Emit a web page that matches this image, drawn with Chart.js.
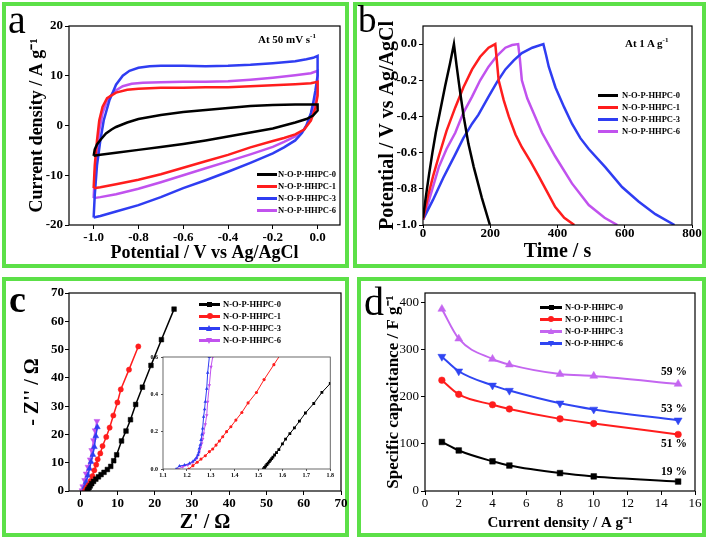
<!DOCTYPE html>
<html>
<head>
<meta charset="utf-8">
<script src="https://cdn.jsdelivr.net/npm/chart.js@4.4.0/dist/chart.umd.min.js"></script>
<style>
  body { margin: 0; width: 709px; height: 541px; background: #fff; position: relative; overflow: hidden; font-family: "Liberation Serif", "Times New Roman", serif; }
  .panel { position: absolute; border: 4px solid #5ce048; box-sizing: border-box; }
  canvas { position: absolute; }
  .note { position: absolute; font-weight: bold; white-space: nowrap; color: #000; }
  .note sup { font-size: 7px; }
  .letter { position: absolute; line-height: 1; color: #000; }
  .leg { position: absolute; font-size: 8.5px; font-weight: bold; white-space: nowrap; }
  .leg .row { position: relative; height: 12px; }
  .leg .ln { position: absolute; top: 5px; height: 2.5px; }
  .leg .tx { position: absolute; top: 0; line-height: 12px; }
  .leg .mk { position: absolute; }
</style>
</head>
<body>
<div class="panel" style="left:2px;top:2px;width:347px;height:266px"></div>
<div class="panel" style="left:353px;top:2px;width:353px;height:266px"></div>
<div class="panel" style="left:2px;top:277px;width:347px;height:260px"></div>
<div class="panel" style="left:357px;top:277px;width:349px;height:260px"></div>

<canvas id="cv"></canvas>
<canvas id="gcd"></canvas>
<canvas id="eis"></canvas>
<canvas id="inset"></canvas>
<canvas id="rate"></canvas>

<div class="letter" style="left:8px;top:0px;font-size:40px">a</div>
<div class="letter" style="left:358px;top:1px;font-size:37px">b</div>
<div class="letter" style="left:9px;top:280px;font-size:38px;font-weight:bold">c</div>
<div class="letter" style="left:364px;top:282px;font-size:40px">d</div>

<div class="note" style="left:258px;top:32px;font-size:11px">At 50 mV s<sup>-1</sup></div>
<div class="note" style="left:625px;top:36px;font-size:11px">At 1 A g<sup>-1</sup></div>

<script>
// sample names and colours
const series = ['N-O-P-HHPC-0', 'N-O-P-HHPC-1', 'N-O-P-HHPC-3', 'N-O-P-HHPC-6'];
const colors = ['#000000', '#ff1d1d', '#2f3df2', '#c152ee'];
const rateColors = ['#000000', '#ff1d1d', '#c466f0', '#2f45f2'];

// (a) CV loops at 50 mV/s: [potential V, current density A/g]
const cv0 = [[-1,-6.1],[-0.995,-4.8],[-0.985,-3.8],[-0.97,-2.9],[-0.945,-1.6],[-0.92,-0.8],[-0.9,-0.3],[-0.85,0.6],[-0.8,1.3],[-0.7,2.1],[-0.6,2.7],[-0.5,3.1],[-0.4,3.5],[-0.3,3.9],[-0.2,4.1],[-0.1,4.2],[0,4.2],[0,3],[-0.02,2],[-0.05,1.3],[-0.1,0.6],[-0.2,-0.6],[-0.3,-1.4],[-0.4,-2.2],[-0.5,-3],[-0.6,-3.7],[-0.7,-4.3],[-0.8,-4.9],[-0.9,-5.5],[-0.97,-5.9],[-1,-6.1]];
const cv1 = [[-1,-12.6],[-0.995,-8],[-0.985,-3],[-0.975,1],[-0.96,3.8],[-0.94,5.5],[-0.9,6.6],[-0.85,7.2],[-0.8,7.4],[-0.7,7.6],[-0.6,7.6],[-0.5,7.7],[-0.4,7.7],[-0.3,7.9],[-0.2,8.1],[-0.1,8.3],[-0.03,8.5],[0,8.8],[0,6],[-0.01,3.5],[-0.03,1],[-0.06,-0.8],[-0.1,-1.8],[-0.15,-2.5],[-0.2,-3.1],[-0.3,-4.4],[-0.4,-5.9],[-0.5,-7.2],[-0.6,-8.5],[-0.7,-9.8],[-0.8,-10.9],[-0.9,-11.8],[-0.97,-12.4],[-1,-12.6]];
const cv3 = [[-1,-18.5],[-0.995,-14],[-0.985,-8],[-0.97,-3],[-0.955,1],[-0.93,5],[-0.9,8.2],[-0.87,10],[-0.84,11],[-0.8,11.6],[-0.75,11.9],[-0.7,12],[-0.6,12],[-0.5,11.9],[-0.4,12],[-0.3,12.2],[-0.2,12.5],[-0.1,12.9],[-0.05,13.3],[-0.02,13.6],[0,14],[0,10],[-0.01,7],[-0.02,4.5],[-0.03,2.5],[-0.05,0],[-0.07,-1.5],[-0.1,-3],[-0.15,-4.4],[-0.2,-5.6],[-0.3,-7.5],[-0.4,-9.3],[-0.5,-11],[-0.6,-12.6],[-0.7,-14.4],[-0.8,-16],[-0.9,-17.3],[-0.97,-18.2],[-1,-18.5]];
const cv6 = [[-1,-14.6],[-0.995,-10],[-0.985,-5],[-0.975,-1],[-0.96,2.5],[-0.94,5],[-0.91,6.8],[-0.87,7.9],[-0.83,8.4],[-0.78,8.6],[-0.7,8.7],[-0.6,8.8],[-0.5,8.8],[-0.4,8.9],[-0.3,9.2],[-0.2,9.6],[-0.1,10.1],[-0.03,10.5],[0,11],[0,7],[-0.01,4.5],[-0.03,1.5],[-0.06,-0.8],[-0.1,-2.2],[-0.15,-3.3],[-0.2,-4.3],[-0.3,-5.8],[-0.4,-7.2],[-0.5,-8.6],[-0.6,-10],[-0.7,-11.4],[-0.8,-12.7],[-0.9,-13.8],[-0.97,-14.4],[-1,-14.6]];
const cvTicksX = [-1.0, -0.8, -0.6, -0.4, -0.2, 0.0];
const cvTicksY = [-20, -10, 0, 10, 20];

// (b) charge/discharge at 1 A/g: [time s, potential V]
const gcd0 = [[0,-0.96],[8,-0.85],[18,-0.72],[28,-0.6],[38,-0.49],[50,-0.38],[66,-0.23],[80,-0.11],[92,0],[100,-0.12],[110,-0.26],[121,-0.4],[135,-0.55],[151,-0.68],[175,-0.85],[199,-1.0]];
const gcd1 = [[0,-0.97],[15,-0.84],[30,-0.73],[47,-0.62],[70,-0.48],[96,-0.35],[120,-0.24],[146,-0.14],[170,-0.07],[195,-0.02],[215,0],[218,-0.06],[225,-0.2],[240,-0.31],[255,-0.4],[275,-0.5],[294,-0.57],[320,-0.65],[344,-0.73],[370,-0.82],[393,-0.9],[420,-0.96],[450,-1.0]];
const gcd3 = [[0,-0.97],[30,-0.86],[60,-0.74],[96,-0.61],[120,-0.52],[146,-0.44],[165,-0.39],[195,-0.29],[220,-0.21],[245,-0.14],[270,-0.09],[294,-0.05],[325,-0.02],[358,0],[366,-0.06],[374,-0.125],[394,-0.24],[420,-0.35],[443,-0.44],[468,-0.52],[493,-0.58],[542,-0.68],[592,-0.79],[641,-0.87],[691,-0.94],[748,-1.0]];
const gcd6 = [[0,-0.97],[20,-0.85],[47,-0.68],[70,-0.58],[96,-0.49],[120,-0.38],[146,-0.29],[170,-0.2],[195,-0.125],[220,-0.065],[245,-0.02],[265,-0.005],[283,0],[288,-0.08],[294,-0.2],[310,-0.3],[324,-0.36],[354,-0.49],[393,-0.62],[443,-0.77],[493,-0.89],[540,-0.96],[578,-1.0]];
const gcdTicksX = [0, 200, 400, 600, 800];
const gcdTicksY = [-1.0, -0.8, -0.6, -0.4, -0.2, 0.0];

// (c) Nyquist plots: [Z' ohm, -Z'' ohm]
const eis0 = [[1.9,0],[2.1,0.6],[2.4,1.2],[2.7,1.8],[3.1,2.6],[3.6,3.4],[4.2,4.2],[4.9,5.0],[5.6,5.8],[6.4,6.6],[7.3,7.6],[8.2,8.7],[9.0,10.7],[9.8,12.8],[11.1,17.7],[12.3,21.2],[13.5,25.2],[14.9,30.6],[16.7,36.7],[19.0,44.4],[21.8,53.5],[25.2,64.3]];
const eis1 = [[1.3,0],[1.6,0.7],[1.9,1.4],[2.3,2.2],[2.8,3.6],[3.3,5.3],[3.8,7.3],[4.3,9.3],[4.7,11.2],[5.4,13.3],[6.0,15.9],[7.0,19.1],[7.9,22.4],[8.9,26.7],[10.0,31.3],[10.9,35.9],[13.1,42.9],[15.6,51.1]];
const eis3 = [[1.0,0],[1.2,1.4],[1.6,3.2],[2.1,5.5],[2.5,7.9],[2.9,10.3],[3.4,12.8],[3.8,15.6],[4.2,19.4],[4.6,22.6]];
const eis6 = [[0.5,0.2],[0.7,1.6],[1.2,3.8],[1.6,6.1],[2.1,8.5],[2.7,11.1],[3.1,14.4],[3.6,17.9],[4.0,21.4],[4.5,24.7]];
const eisTicks = [0, 10, 20, 30, 40, 50, 60, 70];

// (c) inset, high-frequency region
const in0 = [[1.52,0],[1.525,0.008],[1.53,0.016],[1.535,0.024],[1.54,0.032],[1.545,0.04],[1.55,0.048],[1.555,0.056],[1.56,0.064],[1.567,0.075],[1.575,0.088],[1.585,0.104],[1.6,0.135],[1.613,0.16],[1.631,0.19],[1.65,0.22],[1.671,0.256],[1.696,0.3],[1.731,0.351],[1.765,0.41],[1.8,0.458]];
const in1 = [[1.208,0],[1.225,0.018],[1.243,0.036],[1.259,0.053],[1.277,0.071],[1.294,0.093],[1.308,0.107],[1.322,0.128],[1.336,0.15],[1.35,0.173],[1.366,0.2],[1.384,0.226],[1.405,0.262],[1.43,0.303],[1.456,0.354],[1.491,0.41],[1.523,0.479],[1.564,0.559],[1.59,0.61]];
const in3 = [[1.155,0],[1.169,0.016],[1.19,0.021],[1.211,0.03],[1.225,0.04],[1.232,0.048],[1.24,0.06],[1.246,0.075],[1.25,0.09],[1.252,0.11],[1.256,0.13],[1.259,0.155],[1.263,0.185],[1.266,0.217],[1.27,0.28],[1.274,0.32],[1.277,0.36],[1.283,0.43],[1.287,0.516],[1.294,0.6],[1.297,0.65]];
const in6 = [[1.162,0],[1.183,0.012],[1.204,0.021],[1.225,0.036],[1.241,0.057],[1.247,0.075],[1.252,0.093],[1.257,0.115],[1.262,0.137],[1.266,0.16],[1.27,0.19],[1.277,0.239],[1.283,0.288],[1.287,0.36],[1.294,0.449],[1.301,0.547],[1.308,0.6],[1.311,0.65]];
const insetTicksX = [1.1, 1.2, 1.3, 1.4, 1.5, 1.6, 1.7, 1.8];
const insetTicksY = [0.0, 0.2, 0.4, 0.6];

// (d) rate capability
const currentDensity = [1, 2, 4, 5, 8, 10, 15];
const cap0 = [104, 86, 63, 54, 38, 31, 20];
const cap1 = [235, 205, 183, 174, 153, 143, 120];
const cap3 = [386, 323, 280, 268, 248, 244, 227];
const cap6 = [285, 254, 224, 213, 186, 173, 150];
const rateTicksX = [0, 2, 4, 6, 8, 10, 12, 14, 16];
const rateTicksY = [0, 100, 200, 300, 400];
const retention = ['59 %', '53 %', '51 %', '19 %'];

Chart.defaults.font.family = "'Liberation Serif', 'Times New Roman', serif";
Chart.defaults.color = '#000';

const xy = arr => arr.map(p => ({ x: p[0], y: p[1] }));

// box around the plot area
const frame = {
  id: 'frame',
  afterDatasetsDraw(chart, args, opts) {
    const { ctx, chartArea: a } = chart;
    ctx.save();
    ctx.strokeStyle = opts.color || '#000';
    ctx.lineWidth = opts.width || 1.2;
    ctx.strokeRect(a.left, a.top, a.right - a.left, a.bottom - a.top);
    ctx.restore();
  }
};

function place(id, x, y, w, h) {
  const c = document.getElementById(id);
  c.width = w; c.height = h;
  c.style.left = x + 'px'; c.style.top = y + 'px';
  c.style.width = w + 'px'; c.style.height = h + 'px';
  return c;
}

function axis(o) {
  return {
    type: 'linear', min: o.min, max: o.max,
    afterBuildTicks: s => { s.ticks = o.ticks.map(v => ({ value: v })); },
    afterFit: s => { if (s.isHorizontal()) s.height = o.size; else s.width = o.size; },
    grid: { drawOnChartArea: false, color: o.gc || '#000', tickLength: o.tl ?? 4, lineWidth: 1 },
    border: { display: false },
    ticks: {
      autoSkip: false, maxRotation: 0, padding: o.tp ?? 2, color: '#000',
      font: { size: o.fs || 13, weight: o.fw || 'bold' },
      callback: v => o.fmt ? o.fmt(v) : String(v)
    },
    title: o.title
      ? { display: true, text: o.title, color: '#000', font: { size: o.ts, weight: 'bold' }, padding: o.tpad }
      : { display: false }
  };
}

function base(pad, scales, frameOpts) {
  return {
    responsive: false, animation: false, events: [],
    layout: { padding: pad },
    plugins: { legend: { display: false }, tooltip: { enabled: false }, frame: frameOpts || {} },
    scales: scales
  };
}

const fix1 = v => v.toFixed(1);

// (a)
new Chart(place('cv', 2, 2, 347, 266), {
  type: 'scatter',
  data: {
    datasets: [cv0, cv1, cv3, cv6].map((d, i) => ({
      label: series[i], data: xy(d), showLine: true, borderColor: colors[i],
      borderWidth: 2.5, pointRadius: 0, tension: 0
    }))
  },
  options: base({ left: 0, top: 24, right: 9, bottom: 0 }, {
    x: axis({ min: -1.11, max: 0.1, ticks: cvTicksX, fmt: fix1, size: 43, tp: 1,
      title: 'Potential / V vs Ag/AgCl', ts: 18, tpad: { top: 0, bottom: 4 } }),
    y: axis({ min: -20, max: 20, ticks: cvTicksY, size: 67,
      title: 'Current density / A g\u207B\u00B9', ts: 18, tpad: { top: 25, bottom: 0 } })
  }),
  plugins: [frame]
});

// (b)
new Chart(place('gcd', 353, 2, 353, 266), {
  type: 'scatter',
  data: {
    datasets: [gcd0, gcd1, gcd3, gcd6].map((d, i) => ({
      label: series[i], data: xy(d), showLine: true, borderColor: colors[i],
      borderWidth: 2.5, pointRadius: 0, tension: 0
    }))
  },
  options: base({ left: 0, top: 24, right: 14, bottom: 0 }, {
    x: axis({ min: 0, max: 800, ticks: gcdTicksX, size: 43, tl: 3, tp: -2,
      title: 'Time / s', ts: 20, tpad: { top: 0, bottom: 4 } }),
    y: axis({ min: -1.0, max: 0.1, ticks: gcdTicksY, fmt: fix1, size: 70,
      title: 'Potential / V vs Ag/AgCl', ts: 20, tpad: { top: 23, bottom: 0 } })
  }),
  plugins: [frame]
});

// (c)
const eisStyles = [
  { pointStyle: 'rect', r: 3.3, rot: 0 },
  { pointStyle: 'circle', r: 2.6, rot: 0 },
  { pointStyle: 'triangle', r: 3.4, rot: 0 },
  { pointStyle: 'triangle', r: 3.4, rot: 180 }
];
new Chart(place('eis', 2, 277, 347, 260), {
  type: 'scatter',
  data: {
    datasets: [eis0, eis1, eis3, eis6].map((d, i) => ({
      label: series[i], data: xy(d), showLine: true, borderColor: colors[i], backgroundColor: colors[i],
      borderWidth: 1.5, pointStyle: eisStyles[i].pointStyle, pointRadius: eisStyles[i].r,
      pointRotation: eisStyles[i].rot, pointBorderWidth: 0.5, tension: 0
    }))
  },
  options: base({ left: 0, top: 16, right: 8, bottom: 0 }, {
    x: axis({ min: -3, max: 70, ticks: eisTicks, size: 46, tp: 1,
      title: "Z' / \u03A9", ts: 20, tpad: { top: 0, bottom: 2 } }),
    y: axis({ min: 0, max: 70, ticks: eisTicks, size: 67, tp: 1,
      title: "- Z'' / \u03A9", ts: 20, tpad: { top: 19, bottom: 0 } })
  }),
  plugins: [frame]
});

// (c) inset
new Chart(place('inset', 140, 350, 195, 135), {
  type: 'scatter',
  data: {
    datasets: [in0, in1, in3, in6].map((d, i) => ({
      label: series[i], data: xy(d), showLine: true, borderColor: colors[i], backgroundColor: colors[i],
      borderWidth: 1, pointStyle: eisStyles[i].pointStyle, pointRadius: eisStyles[i].r * 0.6,
      pointRotation: eisStyles[i].rot, pointBorderWidth: 0, tension: 0
    }))
  },
  options: base({ left: 0, top: 7, right: 3, bottom: 0 }, {
    x: axis({ min: 1.1, max: 1.8, ticks: insetTicksX, fmt: fix1, size: 16, tl: 2, tp: 1, fs: 6, gc: '#555' }),
    y: axis({ min: 0, max: 0.6, ticks: insetTicksY, fmt: fix1, size: 23, tl: 2, tp: 3, fs: 6, gc: '#555' })
  }, { color: '#444', width: 0.8 }),
  plugins: [frame]
});

// (d)
const rateStyles = [
  { pointStyle: 'rect', r: 4, rot: 0 },
  { pointStyle: 'circle', r: 3.3, rot: 0 },
  { pointStyle: 'triangle', r: 4.6, rot: 0 },
  { pointStyle: 'triangle', r: 4.6, rot: 180 }
];
new Chart(place('rate', 357, 277, 349, 260), {
  type: 'scatter',
  data: {
    datasets: [cap0, cap1, cap3, cap6].map((d, i) => ({
      label: series[i], data: currentDensity.map((x, j) => ({ x: x, y: d[j] })), showLine: true,
      borderColor: rateColors[i], backgroundColor: rateColors[i], borderWidth: 2,
      pointStyle: rateStyles[i].pointStyle, pointRadius: rateStyles[i].r,
      pointRotation: rateStyles[i].rot, pointBorderWidth: 0.5, cubicInterpolationMode: 'monotone'
    }))
  },
  options: base({ left: 0, top: 16, right: 11, bottom: 0 }, {
    x: axis({ min: 0, max: 16, ticks: rateTicksX, size: 46, tp: 1, fw: 'normal',
      title: 'Current density / A g\u207B\u00B9', ts: 15, tpad: { top: 0, bottom: 5 } }),
    y: axis({ min: 0, max: 420, ticks: rateTicksY, size: 68, fw: 'normal',
      title: 'Specific capacitance / F g\u207B\u00B9', ts: 17, tpad: { top: 26, bottom: 0 } })
  }),
  plugins: [frame]
});

// retention labels next to the 15 A/g points
const retTops = [365, 402, 437, 465];
retention.forEach((t, i) => {
  const el = document.createElement('div');
  el.className = 'note';
  el.style.cssText = 'left:661px;top:' + retTops[i] + 'px;font-size:11.5px';
  el.textContent = t;
  document.body.appendChild(el);
});

// legends
function marker(kind, color, cx) {
  if (kind === 'rect') return '<span class="mk" style="left:' + (cx - 2.5) + 'px;top:3.7px;width:5px;height:5px;background:' + color + '"></span>';
  if (kind === 'circle') return '<span class="mk" style="left:' + (cx - 3) + 'px;top:3.2px;width:6px;height:6px;border-radius:50%;background:' + color + '"></span>';
  if (kind === 'up') return '<span class="mk" style="left:' + (cx - 3.5) + 'px;top:2.5px;width:0;height:0;border-left:3.5px solid transparent;border-right:3.5px solid transparent;border-bottom:6px solid ' + color + '"></span>';
  return '<span class="mk" style="left:' + (cx - 3.5) + 'px;top:3.5px;width:0;height:0;border-left:3.5px solid transparent;border-right:3.5px solid transparent;border-top:6px solid ' + color + '"></span>';
}
function legend(left, top, lineW, gap, cols, marks) {
  const box = document.createElement('div');
  box.className = 'leg';
  box.style.left = left + 'px';
  box.style.top = top + 'px';
  series.forEach((s, i) => {
    const row = document.createElement('div');
    row.className = 'row';
    row.innerHTML = '<span class="ln" style="left:0;width:' + lineW + 'px;background:' + cols[i] + '"></span>' +
      (marks ? marker(marks[i], cols[i], lineW / 2) : '') +
      '<span class="tx" style="left:' + (lineW + gap) + 'px">' + s + '</span>';
    box.appendChild(row);
  });
  document.body.appendChild(box);
}
legend(257, 168, 20, 1, colors, null);
legend(598, 89, 20, 4, colors, null);
legend(199, 298, 21, 3, colors, ['rect', 'circle', 'up', 'down']);
legend(540, 301, 22, 3, rateColors, ['rect', 'circle', 'up', 'down']);
</script>
</body>
</html>
